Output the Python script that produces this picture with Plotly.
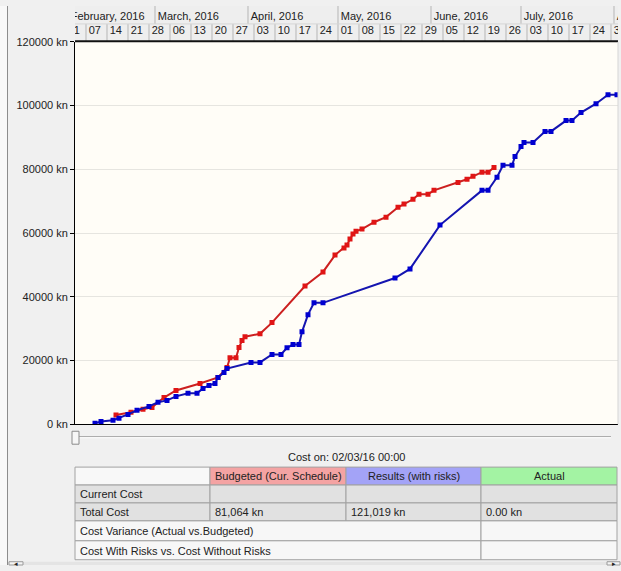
import pandas as pd
import plotly.graph_objects as go

W, H = 621, 571

# The photographed page shows a small vertical offset/compression; positions below are given
# in reference-picture pixels and mapped to page pixels here.
Y_OFF, Y_SCALE = 4.0, 0.983


def px(x):
    return x / W


def py(y):
    page = (y - Y_OFF) / Y_SCALE
    return min(1.0, max(0.0, 1 - page / H))


# ---------------- data ----------------
blue_dates = ["2016-02-10", "2016-02-12", "2016-02-16", "2016-02-18", "2016-02-21", "2016-02-24",
              "2016-02-28", "2016-03-02", "2016-03-05", "2016-03-08", "2016-03-12", "2016-03-15",
              "2016-03-17", "2016-03-19", "2016-03-21", "2016-03-22", "2016-03-24", "2016-03-25",
              "2016-04-02", "2016-04-05", "2016-04-09", "2016-04-12", "2016-04-14", "2016-04-16",
              "2016-04-18", "2016-04-19", "2016-04-21", "2016-04-23", "2016-04-26", "2016-05-20",
              "2016-05-25", "2016-06-04", "2016-06-18", "2016-06-20", "2016-06-23", "2016-06-25",
              "2016-06-28", "2016-06-29", "2016-07-01", "2016-07-02", "2016-07-05", "2016-07-09",
              "2016-07-11", "2016-07-16", "2016-07-18", "2016-07-21", "2016-07-26", "2016-07-30",
              "2016-08-02"]
blue_values = [300, 900, 1250, 1900, 3100, 4400,
               5600, 6900, 7500, 8750, 9700, 9700,
               11250, 12200, 12800, 14700, 16250, 17500,
               19400, 19400, 21900, 21900, 24000, 25000,
               25000, 29000, 34400, 38100, 38100, 45900,
               48750, 62500, 73400, 73400, 77500, 81250,
               81250, 84000, 87200, 88400, 88400, 91900,
               91900, 95300, 95300, 97800, 100600, 103400,
               103400]

red_dates = ["2016-02-17", "2016-02-22", "2016-02-26", "2016-02-29", "2016-03-04", "2016-03-08",
             "2016-03-16", "2016-03-22", "2016-03-25", "2016-03-26", "2016-03-28", "2016-03-29",
             "2016-03-30", "2016-03-31", "2016-04-05", "2016-04-09", "2016-04-20", "2016-04-26",
             "2016-04-30", "2016-05-03", "2016-05-04", "2016-05-05", "2016-05-06", "2016-05-07",
             "2016-05-09", "2016-05-13", "2016-05-17", "2016-05-21", "2016-05-23", "2016-05-26",
             "2016-05-28", "2016-05-31", "2016-06-02", "2016-06-10", "2016-06-13", "2016-06-15",
             "2016-06-18", "2016-06-20", "2016-06-22"]
red_values = [2900, 3750, 4700, 5300, 8400, 10600,
              12800, 14700, 17800, 20900, 20900, 24100,
              26250, 27500, 28400, 31900, 43400, 47800,
              53100, 55300, 56250, 58100, 59700, 60600,
              61250, 63400, 65000, 68100, 69100, 70600,
              72200, 72200, 73400, 75900, 76900, 77800,
              79100, 79100, 80600]

y_ticks = [0, 20000, 40000, 60000, 80000, 100000, 120000]
y_tick_labels = ["0 kn", "20000 kn", "40000 kn", "60000 kn", "80000 kn", "100000 kn", "120000 kn"]

week_starts = ["2016-01-31", "2016-02-07", "2016-02-14", "2016-02-21", "2016-02-28", "2016-03-06",
               "2016-03-13", "2016-03-20", "2016-03-27", "2016-04-03", "2016-04-10", "2016-04-17",
               "2016-04-24", "2016-05-01", "2016-05-08", "2016-05-15", "2016-05-22", "2016-05-29",
               "2016-06-05", "2016-06-12", "2016-06-19", "2016-06-26", "2016-07-03", "2016-07-10",
               "2016-07-17", "2016-07-24", "2016-07-31"]
week_labels = ["31", "07", "14", "21", "28", "06", "13", "20", "27", "03", "10", "17", "24",
               "01", "08", "15", "22", "29", "05", "12", "19", "26", "03", "10", "17", "24", "31"]
month_starts = ["2016-02-01", "2016-03-01", "2016-04-01", "2016-05-01", "2016-06-01",
                "2016-07-01", "2016-08-01"]
month_labels = ["February, 2016", "March, 2016", "April, 2016", "May, 2016", "June, 2016",
                "July, 2016", "August, 2016"]

x_range = ["2016-02-03 08:00", "2016-08-02 08:00"]

cost_on_label = "Cost on: 02/03/16 00:00"
table_columns = ["", "Budgeted (Cur. Schedule)", "Results (with risks)", "Actual"]
table_column_colors = ["#F8F8F8", "#F4A3A3", "#A3A3F7", "#A3F3A3"]
row_current_cost = ["Current Cost", "", "", ""]
row_total_cost = ["Total Cost", "81,064 kn", "121,019 kn", "0.00 kn"]
compare_rows = ["Cost Variance (Actual vs.Budgeted)", "Cost With Risks vs. Cost Without Risks"]

RED_LINE, RED_MARK = "#CC2020", "#E01515"
BLUE_LINE, BLUE_MARK = "#1515B0", "#0000D0"
FONT = "Liberation Sans, Arial, sans-serif"
TXT = "#222222"

# ---------------- figure ----------------
fig = go.Figure()

fig.add_trace(go.Scatter(
    x=red_dates, y=red_values, mode="lines+markers",
    line=dict(color=RED_LINE, width=2),
    marker=dict(symbol="square", size=5, color=RED_MARK),
    xaxis="x", yaxis="y", hoverinfo="skip", showlegend=False))
fig.add_trace(go.Scatter(
    x=blue_dates, y=blue_values, mode="lines+markers",
    line=dict(color=BLUE_LINE, width=2),
    marker=dict(symbol="square", size=5, color=BLUE_MARK),
    xaxis="x", yaxis="y", hoverinfo="skip", showlegend=False))

# header (timescale) text, clipped to the header subplot
week_text_x = [pd.Timestamp(d) + pd.Timedelta(hours=22) for d in week_starts]
month_text_x = [pd.Timestamp(d) + pd.Timedelta(hours=22) for d in month_starts]
fig.add_trace(go.Scatter(
    x=week_text_x, y=[10.5] * len(week_starts), text=week_labels, mode="text",
    textposition="middle right", textfont=dict(family=FONT, size=11, color=TXT),
    cliponaxis=True, xaxis="x2", yaxis="y2", hoverinfo="skip", showlegend=False))
fig.add_trace(go.Scatter(
    x=month_text_x, y=[24.5] * len(month_starts), text=month_labels, mode="text",
    textposition="middle right", textfont=dict(family=FONT, size=11, color=TXT),
    cliponaxis=True, xaxis="x2", yaxis="y2", hoverinfo="skip", showlegend=False))

shapes = []
# header background
shapes.append(dict(type="rect", xref="x2 domain", yref="y2 domain", x0=0, x1=1, y0=0, y1=1,
                   fillcolor="#EEEEEE", line=dict(width=0), layer="below"))
for d in week_starts:
    shapes.append(dict(type="line", xref="x2", yref="y2", x0=d, x1=d, y0=0, y1=18,
                       line=dict(color="#B5B5B5", width=1)))
for d in month_starts:
    shapes.append(dict(type="line", xref="x2", yref="y2", x0=d, x1=d, y0=18, y1=36,
                       line=dict(color="#B5B5B5", width=1)))
shapes.append(dict(type="line", xref="x2 domain", yref="y2", x0=0, x1=1, y0=18, y1=18,
                   line=dict(color="#D6D6D6", width=1)))

# frame pieces
shapes.append(dict(type="line", xref="paper", yref="paper", x0=px(75), x1=px(618),
                   y0=py(39.5), y1=py(39.5), line=dict(color="#111111", width=2)))
shapes.append(dict(type="line", xref="paper", yref="paper", x0=px(618), x1=px(618),
                   y0=py(424), y1=py(40), line=dict(color="#D5D5D5", width=1)))
# left strip
shapes.append(dict(type="rect", xref="paper", yref="paper", x0=0, x1=px(7), y0=0, y1=1,
                   fillcolor="#F8F8F8", line=dict(width=0)))
shapes.append(dict(type="line", xref="paper", yref="paper", x0=px(7.5), x1=px(7.5), y0=0, y1=1,
                   line=dict(color="#8C8C8C", width=1)))

# slider under chart
shapes.append(dict(type="line", xref="paper", yref="paper", x0=px(78), x1=px(611),
                   y0=py(436.5), y1=py(436.5), line=dict(color="#9A9A9A", width=1)))
shapes.append(dict(type="line", xref="paper", yref="paper", x0=px(78), x1=px(611),
                   y0=py(437.5), y1=py(437.5), line=dict(color="#FFFFFF", width=1)))
shapes.append(dict(type="rect", xref="paper", yref="paper", x0=px(72), x1=px(79),
                   y0=py(444), y1=py(431), fillcolor="#F6F6F6", line=dict(color="#8A8A8A", width=1)))

# table geometry
col_x = [75, 210, 346, 481, 617]
row_y = [467, 485, 503, 521, 541, 560]
BORDER = "#A2A2A2"
for i in range(4):
    shapes.append(dict(type="rect", xref="paper", yref="paper", x0=px(col_x[i]), x1=px(col_x[i + 1]),
                       y0=py(row_y[1]), y1=py(row_y[0]), fillcolor=table_column_colors[i],
                       line=dict(color=BORDER, width=1)))
for r in (1, 2):
    for i in range(4):
        shapes.append(dict(type="rect", xref="paper", yref="paper", x0=px(col_x[i]), x1=px(col_x[i + 1]),
                           y0=py(row_y[r + 1]), y1=py(row_y[r]), fillcolor="#E1E1E1",
                           line=dict(color=BORDER, width=1)))
for r in (3, 4):
    shapes.append(dict(type="rect", xref="paper", yref="paper", x0=px(col_x[0]), x1=px(col_x[3]),
                       y0=py(row_y[r + 1]), y1=py(row_y[r]), fillcolor="#F7F7F7",
                       line=dict(color=BORDER, width=1)))
    shapes.append(dict(type="rect", xref="paper", yref="paper", x0=px(col_x[3]), x1=px(col_x[4]),
                       y0=py(row_y[r + 1]), y1=py(row_y[r]), fillcolor="#F7F7F7",
                       line=dict(color=BORDER, width=1)))

# bottom scrollbar
SB_TOP = 562
shapes.append(dict(type="rect", xref="paper", yref="paper", x0=px(8), x1=1, y0=0, y1=py(SB_TOP),
                   fillcolor="#E4E4E4", line=dict(width=0)))
shapes.append(dict(type="rect", xref="paper", yref="paper", x0=px(9), x1=px(23), y0=0, y1=py(SB_TOP),
                   fillcolor="#F4F4F4", line=dict(color="#9A9A9A", width=1)))
shapes.append(dict(type="rect", xref="paper", yref="paper", x0=px(607), x1=px(620), y0=0, y1=py(SB_TOP),
                   fillcolor="#F4F4F4", line=dict(color="#9A9A9A", width=1)))

annotations = []
def note(text, x, y, anchor="left", size=11):
    annotations.append(dict(text=text, xref="paper", yref="paper", x=px(x), y=py(y),
                            xanchor=anchor, yanchor="middle", showarrow=False,
                            font=dict(family=FONT, size=size, color=TXT)))

note(cost_on_label, 346, 457, "center")
for i in range(1, 4):
    note(table_columns[i], (col_x[i] + col_x[i + 1]) / 2, 476, "center")
for i, t in enumerate(row_current_cost):
    if t:
        note(t, col_x[i] + 3, 494)
for i, t in enumerate(row_total_cost):
    if t:
        note(t, col_x[i] + 3, 512)
note(compare_rows[0], col_x[0] + 3, 531)
note(compare_rows[1], col_x[0] + 3, 551)
note("◂", 16, 563.5, "center", 7)
note("▸", 613.5, 563.5, "center", 7)

fig.update_layout(
    width=W, height=H, margin=dict(l=0, r=0, t=0, b=0), autosize=False,
    paper_bgcolor="#F0F0F0", plot_bgcolor="#FFFDF7",
    showlegend=False,
    font=dict(family=FONT, size=11, color=TXT),
    xaxis=dict(domain=[px(75), px(618)], range=x_range, type="date", showgrid=False,
               showticklabels=False, ticks="", showline=True, linecolor="#000000", linewidth=1,
               zeroline=False, fixedrange=True, anchor="y"),
    yaxis=dict(domain=[py(424), py(40)], range=[0, 120000], tickmode="array", tickvals=y_ticks,
               ticktext=y_tick_labels, ticks="outside", ticklen=4, tickcolor="#000000",
               showline=True, linecolor="#000000", linewidth=1, showgrid=True,
               gridcolor="#E6E5E0", zeroline=False, fixedrange=True, anchor="x",
               tickfont=dict(family=FONT, size=11, color=TXT)),
    xaxis2=dict(domain=[px(75), px(618)], range=x_range, type="date", visible=False,
                anchor="y2", fixedrange=True),
    yaxis2=dict(domain=[py(40), py(4)], range=[0, 36], visible=False, anchor="x2",
                fixedrange=True),
    shapes=shapes, annotations=annotations,
)

fig.write_html(
    "out.html",
    config={"responsive": False, "displayModeBar": False},
    post_script="document.body.style.margin='0';document.body.style.overflow='hidden';",
)
